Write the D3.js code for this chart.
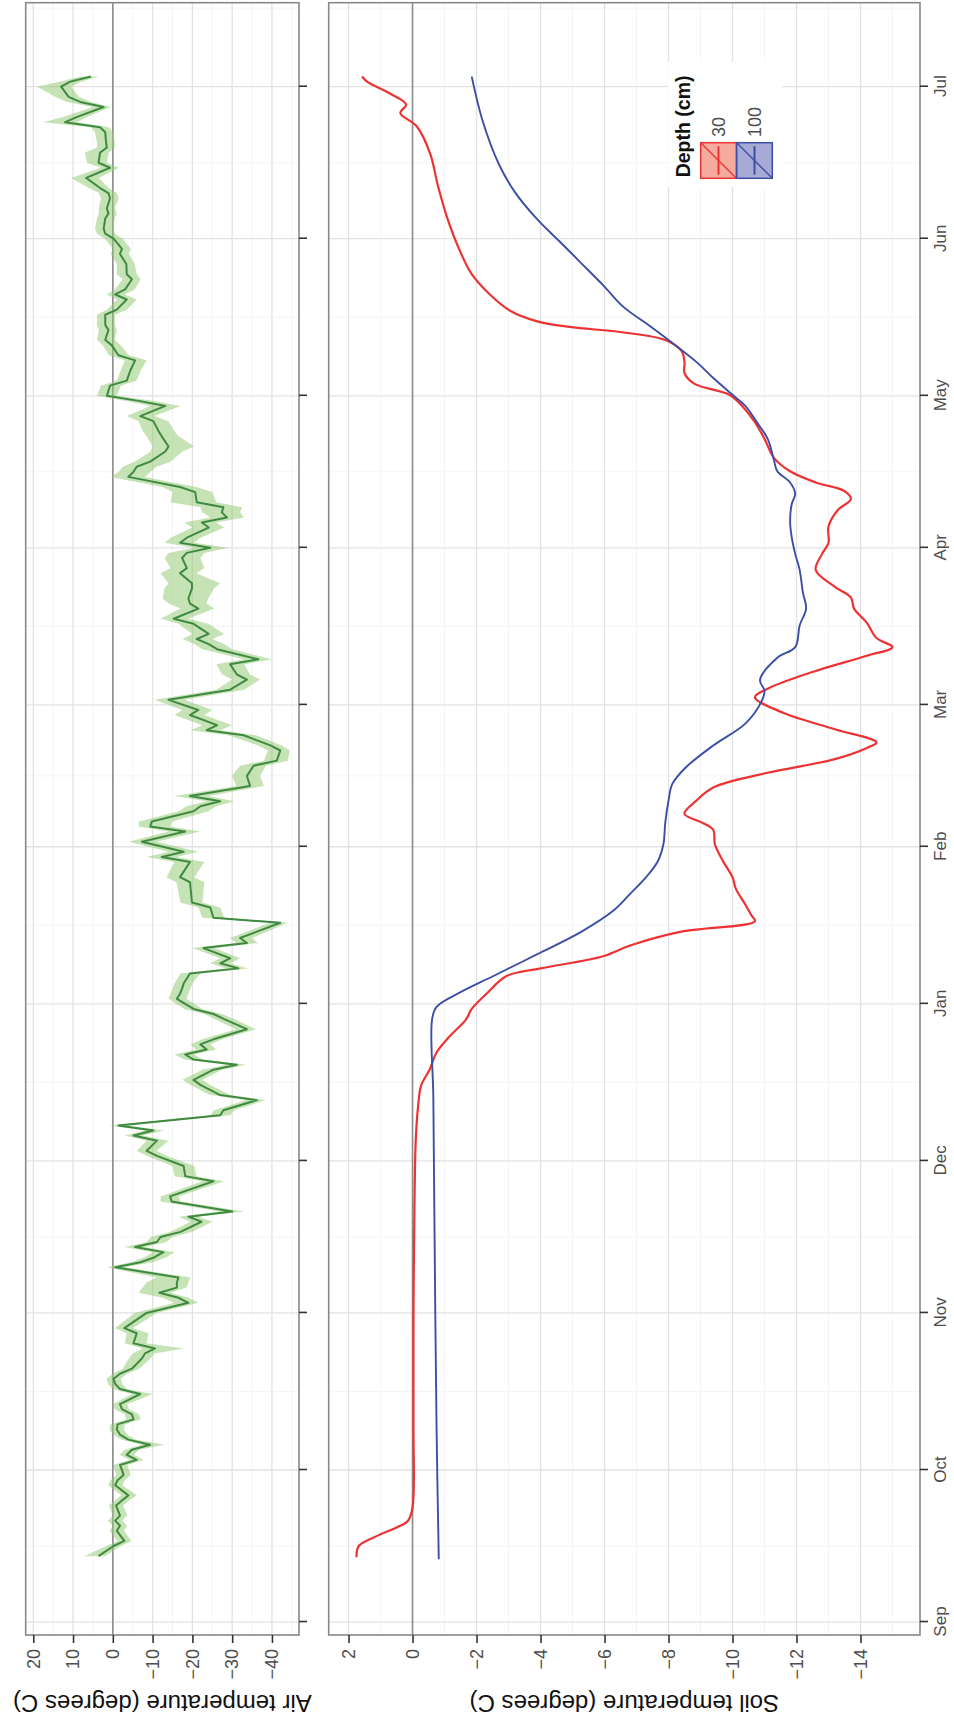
<!DOCTYPE html>
<html>
<head>
<meta charset="utf-8">
<script src="https://cdn.jsdelivr.net/npm/d3@7"></script>
<style>
  body { margin: 0; background: #fff; }
  text { font-family: "Liberation Sans", Arial, sans-serif; }
</style>
</head>
<body>
<svg id="chart" width="954" height="1719"></svg>
<script>
// days are counted from 1 Sep 2013
const airDay = [13,15,16,18,19,20,21,23,24,25,27,28,29,30,31,32,33,34,35,36,37,38,39,40,41,42,43,45,46,47,48,49,50,52,53,54,55,57,58,61,63,64,65,66,67,68,70,71,72,73,74,75,76,77,79,80,81,83,84,87,88,90,92,93,95,96,97,98,100,101,103,104,106,107,109,110,111,112,113,114,115,117,119,120,121,123,124,125,126,128,129,130,131,133,134,135,138,139,141,142,146,147,150,151,152,154,156,157,158,160,161,162,163,165,167,169,170,172,173,175,176,177,179,180,182,184,186,187,189,190,192,193,194,195,197,198,200,201,202,204,205,207,208,210,211,212,213,214,216,217,218,219,220,221,223,224,226,227,228,229,231,232,234,235,237,238,240,241,242,244,245,247,249,250,252,253,255,256,258,259,261,262,263,265,266,268,270,271,273,274,275,277,278,279,281,282,283,285,287,288,290,291,292,294,295,296,297,299,300,301,303,304,305];
const airMean = [3.6,-0.2,-2.9,-1.0,-1.8,-0.6,-1.8,-0.8,-2.3,-3.9,-0.6,-1.2,-2.7,-2.3,-1.8,-6.0,-3.5,-4.8,-9.4,-3.9,-1.8,-1.0,-1.2,-5.2,-4.8,-2.3,-1.8,-6.9,-1.8,-0.6,-0.2,-1.8,-4.8,-7.3,-8.1,-10.6,-5.2,-6.0,-2.9,-8.5,-19.0,-16.5,-11.7,-16.1,-16.1,-16.5,-0.6,-7.0,-10.5,-12.7,-5.6,-11.1,-12.0,-17.0,-22.3,-19.0,-30.0,-14.8,-14.4,-25.3,-18.2,-17.8,-11.1,-8.5,-11.1,-5.2,-10.2,-1.4,-27.0,-27.8,-36.2,-27.0,-22.0,-20.3,-25.3,-31.2,-20.3,-18.2,-23.6,-22.0,-25.3,-33.7,-28.0,-25.3,-20.3,-16.1,-16.9,-17.4,-17.8,-19.4,-31.6,-27.0,-29.5,-22.8,-33.7,-32.0,-42.1,-25.3,-24.5,-19.9,-19.4,-16.9,-19.4,-12.3,-17.8,-7.3,-18.2,-9.4,-9.8,-20.3,-22.0,-27.0,-19.4,-34.5,-33.7,-35.4,-41.2,-42.1,-39.6,-32.9,-23.6,-26.2,-19.4,-21.5,-14.0,-29.5,-33.7,-31.2,-29.5,-36.6,-26.2,-24.1,-21.1,-24.1,-20.3,-15.3,-21.5,-19.4,-19.0,-19.9,-19.9,-16.9,-18.6,-17.4,-18.6,-24.5,-16.9,-18.6,-24.1,-22.4,-28.7,-27.4,-27.8,-21.1,-20.7,-16.9,-3.9,-5.2,-6.0,-9.4,-13.2,-14.0,-12.3,-11.5,-10.2,-6.9,-13.2,-6.5,1.5,0.7,-3.5,-4.4,-5.6,-1.4,0.3,1.9,1.1,1.9,1.9,-1.0,-3.5,-0.6,-3.1,-4.8,-3.5,-3.4,-1.8,-2.3,-0.2,1.9,2.3,1.9,1.1,1.5,0.7,1.1,3.2,6.7,0.7,3.6,3.2,1.5,1.7,1.9,3.2,12.0,9.1,2.3,8.2,11.1,13.0,10.7,5.5];
const airHi = [7.2,1.6,-1.1,0.8,0.0,1.2,0.0,1.0,-0.5,-2.1,
    1.2,0.6,-0.9,-0.5,0.0,-4.2,-1.7,-3.0,-7.2,-2.1,
    0.0,0.8,0.6,-3.4,-3.0,-0.5,0.0,-4.8,0.0,1.2,
    1.6,0.0,-2.5,-4.0,-5.0,-7.5,-3.0,-3.5,-0.5,-5.5,
    -15.5,-12.5,-6.5,-7.5,-8.5,-11.0,1.5,-4.5,-8.0,-10.0,
    -3.0,-8.5,-9.5,-14.5,-19.5,-16.5,-27.0,-12.0,-12.0,-22.5,
    -15.5,-15.0,-8.5,-6.0,-8.5,-3.0,-8.0,1.0,-24.5,-25.5,
    -33.5,-24.5,-19.5,-17.5,-22.5,-28.5,-18.0,-15.5,-21.0,-19.5,
    -22.5,-31.0,-25.5,-23.0,-18.0,-14.0,-14.5,-15.0,-15.5,-17.0,
    -28.5,-24.5,-27.0,-20.0,-31.0,-29.5,-39.5,-22.5,-21.5,-17.0,
    -16.0,-13.5,-15.5,-8.5,-14.0,-4.0,-14.0,-6.5,-6.5,-16.5,
    -18.5,-23.5,-15.5,-31.0,-30.0,-32.0,-38.0,-39.0,-36.5,-29.0,
    -19.5,-22.5,-15.5,-17.5,-10.5,-26.0,-30.0,-27.5,-26.0,-33.0,
    -22.5,-20.5,-17.5,-20.0,-16.5,-12.0,-17.0,-14.0,-12.5,-13.0,
    -14.0,-12.0,-14.5,-13.0,-14.0,-20.5,-13.0,-14.5,-20.0,-18.0,
    -24.5,-22.5,-22.0,-14.5,-15.0,-12.5,0.5,-1.5,-2.5,-5.5,
    -9.5,-10.0,-8.5,-7.5,-6.5,-3.5,-9.5,-3.0,4.0,3.0,
    -1.0,-2.0,-3.0,1.0,2.5,4.0,3.5,4.0,4.0,1.5,
    -1.0,1.5,-0.5,-2.5,-1.0,-1.0,0.5,0.0,2.0,4.0,
    4.5,4.0,3.5,3.5,3.0,3.5,6.0,10.5,3.0,6.5,
    7.0,4.0,4.0,4.5,5.5,17.5,12.5,5.0,11.5,14.5,
    19.0,13.5,8.0];
const airLo = [2.0,-2.0,-4.7,-2.8,-3.6,-2.4,-3.6,-2.6,-4.1,-6.0,
    -2.4,-3.0,-4.5,-4.1,-3.6,-7.8,-5.3,-6.6,-13.0,-5.7,
    -3.6,-2.8,-3.0,-7.0,-6.6,-4.1,-3.6,-10.0,-3.6,-2.4,
    -2.0,-3.6,-6.6,-9.5,-10.5,-17.8,-8.5,-9.0,-5.0,-11.0,
    -21.5,-19.0,-14.5,-18.5,-19.0,-19.5,-3.0,-10.0,-13.5,-15.5,
    -8.0,-13.5,-15.0,-20.0,-25.0,-21.5,-33.0,-17.0,-16.5,-28.0,
    -21.0,-20.5,-13.5,-11.0,-14.0,-7.5,-13.0,-3.5,-29.5,-30.5,
    -38.5,-29.5,-24.5,-22.5,-27.5,-33.5,-22.5,-20.5,-26.0,-24.5,
    -27.5,-36.0,-30.5,-27.5,-22.5,-18.5,-19.0,-19.5,-20.0,-22.0,
    -34.0,-29.5,-32.0,-25.5,-36.5,-35.0,-44.0,-28.0,-27.0,-22.5,
    -23.0,-20.5,-23.0,-16.0,-21.5,-11.0,-22.0,-14.5,-15.0,-24.0,
    -26.0,-30.5,-24.0,-38.0,-37.0,-38.5,-44.0,-44.5,-42.5,-36.0,
    -27.0,-30.0,-23.0,-25.0,-18.0,-33.0,-37.0,-34.5,-33.0,-40.0,
    -30.0,-28.0,-25.0,-28.0,-24.0,-19.0,-25.5,-23.5,-24.0,-25.5,
    -27.0,-21.0,-23.0,-22.0,-23.0,-29.0,-20.5,-22.0,-28.0,-26.0,
    -33.0,-32.0,-32.5,-26.0,-25.0,-21.0,-8.0,-9.5,-11.0,-14.5,
    -17.5,-20.5,-16.5,-15.5,-14.0,-10.5,-17.0,-10.0,-1.0,-2.0,
    -6.0,-7.0,-8.5,-4.0,-2.0,-0.5,-1.0,-0.5,-0.5,-3.5,
    -6.0,-3.0,-5.5,-7.0,-6.0,-5.5,-4.0,-4.5,-2.5,-0.5,
    0.0,-0.5,-1.0,-0.5,-1.5,-1.0,1.0,3.5,-1.5,1.5,
    1.0,-0.5,-0.5,0.0,1.0,9.0,6.5,0.5,5.5,8.5,
    10.5,8.0,3.5];

const soilDay30 = [12.8,15.0,17.1,18.7,20.0,22.6,38.8,60.4,82.1,95.0,101.5,105.9,109.1,112.4,115.6,118.9,121.0,124.3,127.5,129.0,131.4,133.5,136.2,138.3,139.4,141.6,144.8,147.0,150.2,153.5,156.3,157.8,159.5,162.1,164.7,167.6,170.3,172.5,173.6,176.2,179.4,182.5,184.2,187.7,190.7,192.4,194.2,197.2,200.0,202.2,204.3,207.6,210.8,213.0,216.2,219.5,221.6,223.2,224.9,227.1,229.7,233.5,236.8,240.0,242.2,244.4,246.5,248.7,250.9,253.0,254.5,255.6,256.7,258.8,262.1,266.0,270.3,276.8,283.3,289.8,295.2,297.8,299.5,301.7,303.9,305.0];
const soil30 = [1.75,1.68,1.07,0.48,0.14,0.0,-0.03,-0.03,-0.06,-0.10,-0.17,-0.27,-0.54,-0.75,-1.16,-1.67,-1.85,-2.36,-2.94,-4.0,-5.96,-6.8,-8.36,-10.7,-10.6,-10.4,-10.1,-10.0,-9.7,-9.45,-9.4,-9.04,-8.5,-8.87,-9.4,-11.1,-13.2,-14.2,-14.5,-13.2,-11.6,-10.7,-11.1,-12.6,-14.2,-15.0,-14.5,-14.2,-13.8,-13.7,-13.2,-12.6,-12.8,-13.0,-13.0,-13.3,-13.7,-13.5,-12.6,-11.8,-11.3,-11.0,-10.7,-10.3,-9.9,-8.8,-8.5,-8.5,-8.4,-7.9,-6.6,-4.9,-3.9,-3.05,-2.4,-1.85,-1.5,-1.1,-0.8,-0.55,-0.13,0.38,0.2,0.72,1.4,1.58];
const soilDay100 = [12.4,38.8,82.1,103.7,118.9,121.4,124.3,127.5,131.8,136.2,140.5,143.7,147.0,150.2,153.5,157.8,162.1,165.4,168.6,173.0,177.3,181.6,183.8,185.9,190.3,192.4,196.7,200.0,203.2,207.6,210.8,214.1,217.3,220.6,222.7,224.9,227.1,229.2,233.5,236.8,240.0,242.2,245.5,248.7,253.0,256.3,259.5,263.8,268.2,272.5,276.8,282.2,287.7,296.3,305.0];
const soil100 = [-0.82,-0.75,-0.68,-0.65,-0.61,-0.75,-1.5,-2.53,-3.9,-5.27,-6.3,-6.8,-7.3,-7.67,-7.84,-7.9,-8.0,-8.12,-8.53,-9.4,-10.4,-10.9,-11.0,-10.86,-11.4,-11.96,-12.1,-12.3,-12.2,-12.1,-11.96,-11.85,-11.8,-11.85,-11.96,-11.8,-11.4,-11.3,-11.1,-10.76,-10.4,-10.0,-9.4,-8.87,-8.0,-7.3,-6.6,-5.96,-5.27,-4.59,-3.9,-3.2,-2.7,-2.19,-1.85];

const airTicks = [20, 10, 0, -10, -20, -30, -40];
const soilTicks = [2, 0, -2, -4, -6, -8, -10, -12, -14];
const depthLabels = ["30", "100"];
const depthColors = ["#ee3233", "#3a4fa5"];
const depthFills = ["#f6ab9e", "#a8aad6"];

const seasonStart = Date.UTC(2013, 8, 1);
const toDate = t => new Date(seasonStart + t * 864e5);

// the plot is built lying on its side and then turned a quarter turn
const W = 1719, H = 954;
const svg = d3.select('#chart');
const g = svg.append('g').attr('transform', `translate(0,${W}) rotate(-90)`);

const x = d3.scaleUtc()
    .domain([toDate(-2.56), toDate(319.58)])
    .range([84, 1716.3]);

const air = { top: 25.7, bottom: 299 };
const soil = { top: 328.7, bottom: 920 };
const yAir = d3.scaleLinear().domain([-46.8, 21.9]).range([air.bottom, air.top]);
const ySoil = d3.scaleLinear().domain([-15.86, 2.62]).range([soil.bottom, soil.top]);

const [x0, x1] = x.range();
const monthTicks = x.ticks(d3.utcMonth.every(1));
const timeMinor = monthTicks.map(m => new Date((+m + +d3.utcMonth.offset(m, 1)) / 2))
    .filter(d => d >= x.domain()[0] && d <= x.domain()[1]);

function panel(p, y, major, minor) {
    const pg = g.append('g');
    pg.append('rect').attr('x', x0).attr('y', p.top)
        .attr('width', x1 - x0).attr('height', p.bottom - p.top).attr('fill', '#fff');
    // minor grid
    pg.selectAll('.vminor').data(timeMinor).enter().append('line')
        .attr('x1', d => x(d)).attr('x2', d => x(d))
        .attr('y1', p.top).attr('y2', p.bottom)
        .attr('stroke', '#f3f3f3').attr('stroke-width', 0.9);
    pg.selectAll('.hminor').data(minor).enter().append('line')
        .attr('x1', x0).attr('x2', x1)
        .attr('y1', d => y(d)).attr('y2', d => y(d))
        .attr('stroke', '#f3f3f3').attr('stroke-width', 0.9);
    // major grid
    pg.selectAll('.vmajor').data(monthTicks).enter().append('line')
        .attr('x1', d => x(d)).attr('x2', d => x(d))
        .attr('y1', p.top).attr('y2', p.bottom)
        .attr('stroke', '#e2e2e2').attr('stroke-width', 1.3);
    pg.selectAll('.hmajor').data(major).enter().append('line')
        .attr('x1', x0).attr('x2', x1)
        .attr('y1', d => y(d)).attr('y2', d => y(d))
        .attr('stroke', '#e2e2e2').attr('stroke-width', 1.3);
    // zero line
    pg.append('line').attr('x1', x0).attr('x2', x1)
        .attr('y1', y(0)).attr('y2', y(0))
        .attr('stroke', '#8c8c8c').attr('stroke-width', 1.6);
    return pg;
}

const airG = panel(air, yAir, airTicks, [15, 5, -5, -15, -25, -35, -45]);
const soilG = panel(soil, ySoil, soilTicks, [1, -1, -3, -5, -7, -9, -11, -13, -15]);

// air temperature ribbon + mean
const airIdx = d3.range(airDay.length);
airG.append('path')
    .datum(airIdx)
    .attr('fill', '#8fca72').attr('fill-opacity', 0.52)
    .attr('d', d3.area()
        .x(i => x(toDate(airDay[i])))
        .y0(i => yAir(airLo[i]))
        .y1(i => yAir(airHi[i])));
airG.append('path')
    .datum(airIdx)
    .attr('fill', 'none').attr('stroke', '#3f8a40').attr('stroke-width', 2)
    .attr('stroke-linejoin', 'round')
    .attr('d', d3.line()
        .x(i => x(toDate(airDay[i])))
        .y(i => yAir(airMean[i])));

// soil temperature lines
const soilSeries = [[soilDay30, soil30], [soilDay100, soil100]];
soilSeries.forEach(([days, vals], k) => {
    soilG.append('path')
        .datum(d3.range(days.length))
        .attr('fill', 'none').attr('stroke', depthColors[k])
        .attr('stroke-width', k === 0 ? 2.2 : 1.9)
        .attr('d', d3.line()
            .curve(d3.curveCatmullRom)
            .x(i => x(toDate(days[i])))
            .y(i => ySoil(vals[i])));
});

// borders
[air, soil].forEach(p => {
    g.append('rect').attr('x', x0).attr('y', p.top)
        .attr('width', x1 - x0).attr('height', p.bottom - p.top)
        .attr('fill', 'none').attr('stroke', '#888').attr('stroke-width', 1.6);
});

// time axes (ticks under both panels, labels under the soil one)
[air, soil].forEach((p, k) => {
    const ax = g.append('g').attr('transform', `translate(0,${p.bottom})`)
        .call(d3.axisBottom(x).tickValues(monthTicks)
            .tickFormat(k === 1 ? d3.utcFormat('%b') : '')
            .tickSize(8).tickPadding(6));
    ax.select('.domain').remove();
    ax.selectAll('.tick line').attr('stroke', '#333').attr('stroke-width', 1.6);
    ax.selectAll('.tick text').attr('font-size', 17).attr('fill', '#4d4d4d')
        .attr('font-family', '"Liberation Sans", Arial, sans-serif');
});

// temperature axes
[[air, yAir, airTicks], [soil, ySoil, soilTicks]].forEach(([p, y, ticks]) => {
    const ay = g.append('g').attr('transform', `translate(${x0},0)`)
        .call(d3.axisLeft(y).tickValues(ticks).tickSize(8).tickPadding(6)
            .tickFormat(d => d < 0 ? '\u2212' + Math.abs(d) : d));
    ay.select('.domain').remove();
    ay.selectAll('.tick line').attr('stroke', '#333').attr('stroke-width', 1.6);
    ay.selectAll('.tick text').attr('font-size', 18).attr('fill', '#4d4d4d')
        .attr('font-family', '"Liberation Sans", Arial, sans-serif');
});

// axis titles
[[air, 'Air temperature (degrees C)'], [soil, 'Soil temperature (degrees C)']].forEach(([p, label]) => {
    g.append('text')
        .attr('transform', `translate(24.5,${(p.top + p.bottom) / 2}) rotate(-90)`)
        .attr('text-anchor', 'middle')
        .attr('font-size', 24).attr('fill', '#111')
        .text(label);
});

// legend
const leg = g.append('g').attr('transform', 'translate(1532,668)');
leg.append('rect').attr('width', 125).attr('height', 114).attr('fill', '#fff');
leg.append('text').attr('x', 9.7).attr('y', 21.5)
    .attr('font-size', 19.5).attr('font-weight', 'bold').attr('fill', '#111')
    .text('Depth (cm)');
depthLabels.forEach((lab, k) => {
    const ky = 32.7 + k * 36;
    const kg = leg.append('g').attr('transform', `translate(8.7,${ky})`);
    kg.append('rect').attr('width', 35.6).attr('height', 35.6)
        .attr('fill', depthFills[k]).attr('stroke', depthColors[k]).attr('stroke-width', 1.5);
    kg.append('line').attr('x1', 0).attr('y1', 35.6).attr('x2', 35.6).attr('y2', 0)
        .attr('stroke', depthColors[k]).attr('stroke-width', 1.3);
    kg.append('line').attr('x1', 3.6).attr('y1', 17.8).attr('x2', 32).attr('y2', 17.8)
        .attr('stroke', depthColors[k]).attr('stroke-width', 2);
    leg.append('text').attr('x', 50).attr('y', ky + 17.8).attr('dy', '0.35em')
        .attr('font-size', 18).attr('fill', '#4d4d4d')
        .text(lab);
});
</script>
</body>
</html>
